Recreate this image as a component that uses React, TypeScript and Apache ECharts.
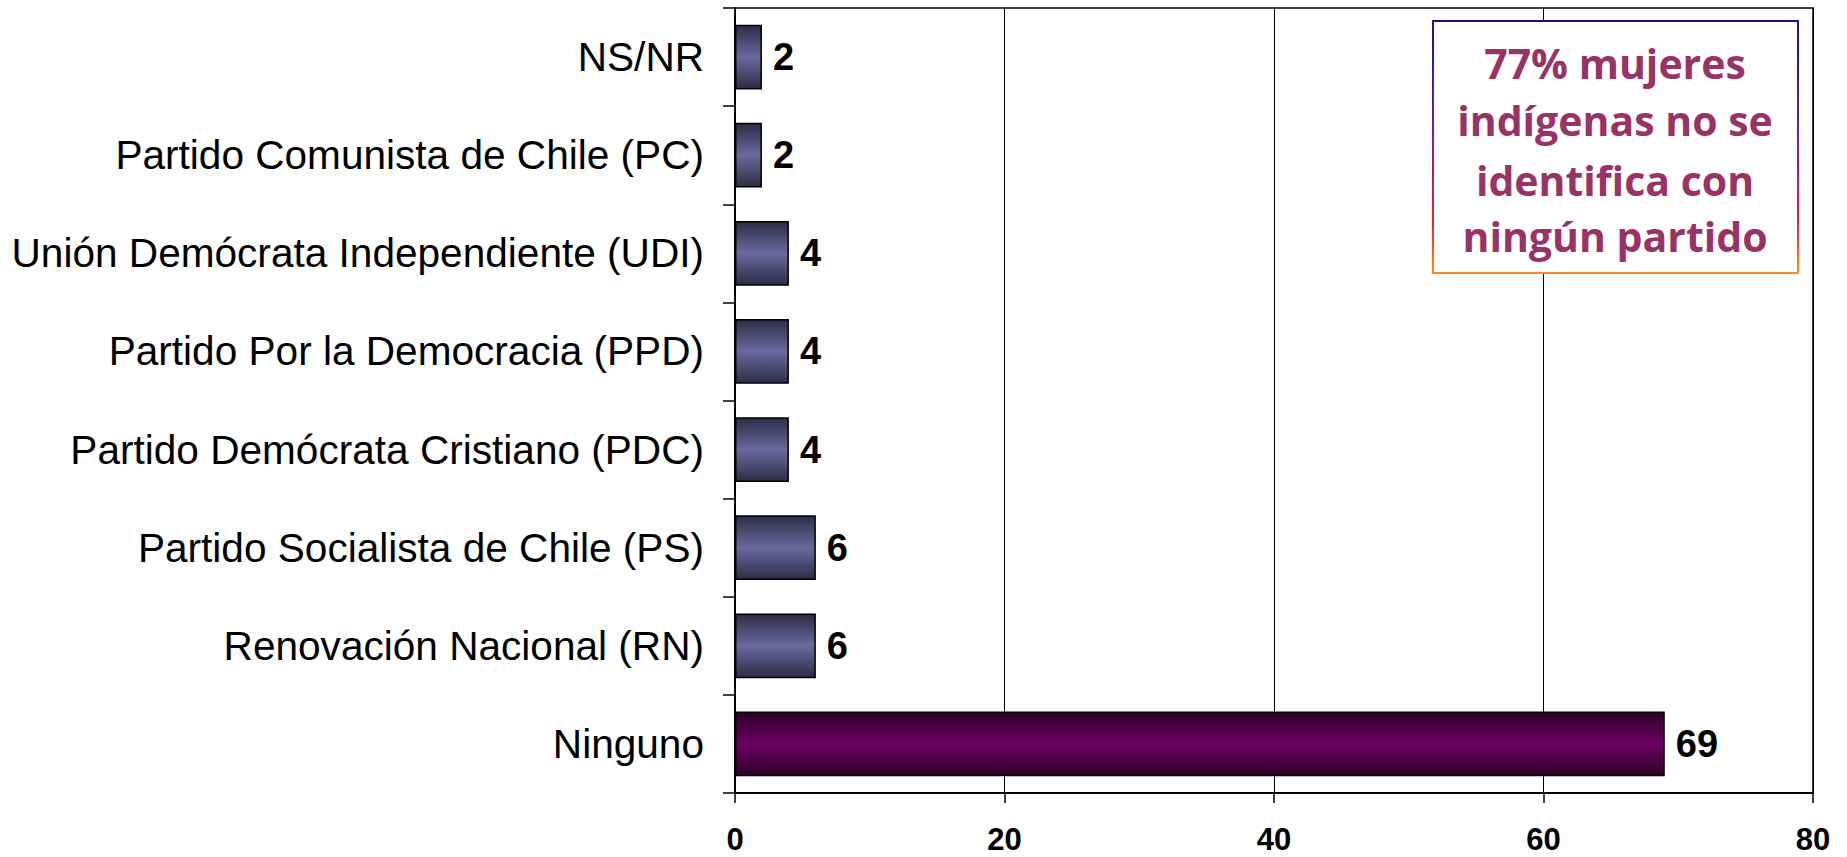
import React, { useEffect, useRef } from "react";
import * as echarts from "echarts";

const categories = [
  "NS/NR",
  "Partido Comunista de Chile (PC)",
  "Unión Demócrata Independiente (UDI)",
  "Partido Por la Democracia (PPD)",
  "Partido Demócrata Cristiano (PDC)",
  "Partido Socialista de Chile (PS)",
  "Renovación Nacional (RN)",
  "Ninguno",
];
const values = [2, 2, 4, 4, 4, 6, 6, 69];
const xTicks = { min: 0, max: 80, interval: 20 };
const noteLines = ["77% mujeres", "indígenas no se", "identifica con", "ningún partido"];

const blueGrad = () =>
  new echarts.graphic.LinearGradient(0, 0, 0, 1, [
    { offset: 0, color: "#2c2c46" },
    { offset: 0.5, color: "#6a6a9e" },
    { offset: 1, color: "#2c2c46" },
  ]);
const purpleGrad = () =>
  new echarts.graphic.LinearGradient(0, 0, 0, 1, [
    { offset: 0, color: "#2e0029" },
    { offset: 0.5, color: "#690061" },
    { offset: 1, color: "#2e0029" },
  ]);

export default function App() {
  const ref = useRef<HTMLDivElement>(null);
  useEffect(() => {
    const chart = echarts.init(ref.current!, null, { renderer: "svg" });
    const lineYs = [63, 120, 180, 236];
    chart.setOption({
      animation: false,
      grid: {
        left: 735,
        right: 34,
        top: 8,
        bottom: 64,
        show: true,
        borderColor: "#000",
        borderWidth: 1.5,
        containLabel: false,
      },
      xAxis: {
        type: "value",
        min: xTicks.min,
        max: xTicks.max,
        interval: xTicks.interval,
        axisLine: { show: true, lineStyle: { color: "#000", width: 2 } },
        axisTick: { show: true, length: 10, lineStyle: { color: "#000", width: 1.5 } },
        axisLabel: {
          margin: 31,
          color: "#000",
          fontSize: 31,
          fontWeight: "bold",
          fontFamily: "Liberation Sans, Arial, sans-serif",
        },
        splitLine: { show: true, lineStyle: { color: "#000", width: 1 } },
      },
      yAxis: {
        type: "category",
        inverse: true,
        data: categories,
        axisLine: { show: true, lineStyle: { color: "#000", width: 1.5 } },
        axisTick: { show: true, length: 12, interval: 0, lineStyle: { color: "#000", width: 1.5 } },
        axisLabel: {
          margin: 31,
          color: "#000",
          fontSize: 40.6,
          fontFamily: "Liberation Sans, Arial, sans-serif",
          interval: 0,
        },
      },
      series: [
        {
          type: "bar",
          barCategoryGap: "34%",
          data: values.map((v, i) => ({
            value: v,
            itemStyle: {
              color: i === values.length - 1 ? purpleGrad() : blueGrad(),
              borderColor: "#000",
              borderWidth: 1.5,
            },
          })),
          label: {
            show: true,
            position: "right",
            distance: 11,
            color: "#000",
            fontSize: 38,
            fontWeight: "bold",
            fontFamily: "Liberation Sans, Arial, sans-serif",
          },
        },
      ],
      graphic: [
        {
          type: "rect",
          shape: { x: 1433, y: 21, width: 365, height: 252 },
          style: {
            fill: "#fff",
            lineWidth: 2,
            stroke: new echarts.graphic.LinearGradient(0, 0, 0, 1, [
              { offset: 0, color: "#14148a" },
              { offset: 0.45, color: "#7a1e96" },
              { offset: 0.8, color: "#e8203c" },
              { offset: 1, color: "#ff8a20" },
            ]),
          },
          z: 10,
        },
        ...noteLines.map((t, i) => ({
          type: "text",
          x: 1615,
          y: lineYs[i],
          z: 11,
          style: {
            text: t,
            fill: "#993366",
            font: "bold 41px 'Open Sans', Lato, sans-serif",
            textAlign: "center",
            textVerticalAlign: "middle",
          },
        })),
      ],
    });
    return () => chart.dispose();
  }, []);
  return (
    <div
      ref={ref}
      style={{ position: "fixed", left: 0, top: 0, width: "1847px", height: "857px", background: "#fff" }}
    />
  );
}
